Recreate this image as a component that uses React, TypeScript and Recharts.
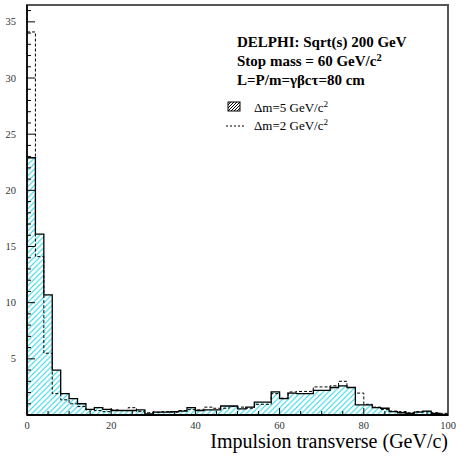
import React from "react";
import { ComposedChart, Area, Line, XAxis, YAxis, ReferenceArea } from "recharts";

// bin edges (GeV/c), 2 GeV wide bins
const binStart = [
  0, 2, 4, 6, 8, 10, 12, 14, 16, 18, 20, 22, 24, 26, 28, 30, 32, 34, 36, 38, 40,
  42, 44, 46, 48, 50, 52, 54, 56, 58, 60, 62, 64, 66, 68, 70, 72, 74, 76, 78, 80,
  82, 84, 86, 88, 90, 92, 94, 96, 98, 100,
];

// Δm = 5 GeV/c² (hatched)
const dm5 = [
  22.9, 16.1, 10.7, 4.0, 1.9, 1.45, 1.0, 0.5, 0.65, 0.5,
  0.4, 0.4, 0.4, 0.45, 0.1, 0.25, 0.25, 0.3, 0.35, 0.65,
  0.4, 0.45, 0.45, 0.8, 0.8, 0.55, 0.7, 1.15, 1.15, 2.05,
  1.45, 1.95, 1.9, 1.9, 2.2, 2.2, 2.45, 2.6, 2.45, 0.9,
  0.9, 0.65, 0.6, 0.3, 0.2, 0.15, 0.25, 0.35, 0.15, 0.05,
];

// Δm = 2 GeV/c² (dashed)
const dm2 = [
  34.1, 14.1, 5.5, 1.9, 1.35, 1.0, 0.75, 0.45, 0.4, 0.3,
  0.45, 0.4, 0.65, 0.3, 0.2, 0.25, 0.3, 0.25, 0.4, 0.5,
  0.45, 0.7, 0.6, 0.6, 0.75, 0.7, 0.6, 0.95, 0.95, 1.9,
  1.5, 2.05, 2.1, 2.1, 2.5, 2.5, 2.6, 3.0, 2.45, 1.95,
  0.95, 0.7, 0.5, 0.35, 0.3, 0.2, 0.3, 0.3, 0.2, 0.15,
];

const xTicks = [0, 5, 10, 15, 20, 25, 30, 35, 40, 45, 50, 55, 60, 65, 70, 75, 80, 85, 90, 95, 100];
const xLabels = [0, 20, 40, 60, 80, 100];
const yTicks = [0, 1, 2, 3, 4, 5, 6, 7, 8, 9, 10, 11, 12, 13, 14, 15, 16, 17, 18, 19, 20, 21, 22, 23, 24, 25, 26, 27, 28, 29, 30, 31, 32, 33, 34, 35, 36];
const yLabels = [5, 10, 15, 20, 25, 30, 35];

const data = binStart.map((x, i) => ({
  x,
  dm5: dm5[Math.min(i, dm5.length - 1)],
  dm2: dm2[Math.min(i, dm2.length - 1)],
}));

const FONT = '"Liberation Serif", "Times New Roman", serif';
const Y_MAX = 36.5;

const YTick = ({ x, y, payload }: any) => {
  const v = payload.value;
  const major = yLabels.includes(v);
  if (v === 0) return <g />;
  return (
    <g>
      <line x1={x} x2={x + (major ? 8 : 4)} y1={y} y2={y} stroke="#000" strokeWidth={1} />
      {major && (
        <text x={x - 11} y={y} dy={3.5} textAnchor="end" fontSize={10.5} fontFamily={FONT} fill="#333">
          {v}
        </text>
      )}
    </g>
  );
};

const XTick = ({ x, y, payload }: any) => {
  const v = payload.value;
  const major = xLabels.includes(v);
  return (
    <g>
      {v > 0 && v < 100 && (
        <line x1={x} x2={x} y1={y} y2={y - (major ? 7 : 4)} stroke="#000" strokeWidth={1} />
      )}
      {major && (
        <text x={x} y={y + 14} textAnchor="middle" fontSize={10.5} fontFamily={FONT} fill="#333">
          {v}
        </text>
      )}
    </g>
  );
};

const Sup2 = () => (
  <tspan dy={-5} fontSize="0.7em">2</tspan>
);

export default function App() {
  return (
    <div style={{ position: "absolute", left: 0, top: 0, width: 461, height: 459, background: "#fff" }}>
      <ComposedChart
        width={461}
        height={459}
        data={data}
        margin={{ top: 5, right: 13, bottom: 0, left: 0 }}
      >
        <defs>
          <pattern id="hatchCyan" patternUnits="userSpaceOnUse" width={5.5} height={5.5}>
            <line x1={0} y1={5.5} x2={5.5} y2={0} stroke="#22d3e0" strokeWidth={1} />
            <line x1={-1} y1={1} x2={1} y2={-1} stroke="#22d3e0" strokeWidth={1} />
            <line x1={4.5} y1={6.5} x2={6.5} y2={4.5} stroke="#22d3e0" strokeWidth={1} />
          </pattern>
        </defs>
        <XAxis
          type="number"
          dataKey="x"
          domain={[0, 100]}
          ticks={xTicks}
          interval={0}
          tick={<XTick />}
          tickLine={false}
          tickSize={0}
          tickMargin={0}
          height={44}
          axisLine={{ stroke: "#000", strokeWidth: 2 }}
        />
        <YAxis
          type="number"
          domain={[0, Y_MAX]}
          allowDataOverflow
          ticks={yTicks}
          interval={0}
          tick={<YTick />}
          tickLine={false}
          tickSize={0}
          tickMargin={0}
          width={27}
          axisLine={{ stroke: "#000", strokeWidth: 1.5 }}
        />
        <Area
          type="stepAfter"
          dataKey="dm5"
          stroke="#000"
          strokeWidth={1.3}
          fill="url(#hatchCyan)"
          fillOpacity={1}
          dot={false}
          activeDot={false}
          isAnimationActive={false}
        />
        <Line
          type="stepAfter"
          dataKey="dm2"
          stroke="#000"
          strokeWidth={1}
          strokeDasharray="3 2"
          dot={false}
          activeDot={false}
          isAnimationActive={false}
        />
        <ReferenceArea
          x1={0}
          x2={100}
          y1={0}
          y2={Y_MAX}
          fill="none"
          stroke="#555"
          strokeWidth={2}
          ifOverflow="visible"
        />
      </ComposedChart>
      <svg
        width={461}
        height={459}
        style={{ position: "absolute", left: 0, top: 0, pointerEvents: "none" }}
      >
        <defs>
          <pattern id="hatchBlack" patternUnits="userSpaceOnUse" width={3} height={3}>
            <line x1={0} y1={3} x2={3} y2={0} stroke="#000" strokeWidth={1} />
          </pattern>
        </defs>
        <g fontFamily={FONT} fontWeight="bold" fontSize={15} fill="#000">
          <text x={237} y={47}>DELPHI: Sqrt(s) 200 GeV</text>
          <text x={237} y={66}>
            Stop mass = 60 GeV/c<Sup2 />
          </text>
          <text x={237} y={85}>L=P/m=γβcτ=80 cm</text>
        </g>
        <rect x={228} y={102} width={12} height={9} fill="url(#hatchBlack)" stroke="#000" strokeWidth={1} />
        <line x1={226} x2={245} y1={126} y2={126} stroke="#000" strokeDasharray="2 2" />
        <g fontFamily={FONT} fontSize={13} fill="#000">
          <text x={254} y={112}>
            Δm=5 GeV/c<Sup2 />
          </text>
          <text x={254} y={130}>
            Δm=2 GeV/c<Sup2 />
          </text>
        </g>
        <text x={448} y={448} textAnchor="end" fontFamily={FONT} fontSize={20} fill="#000">
          Impulsion transverse (GeV/c)
        </text>
      </svg>
    </div>
  );
}
